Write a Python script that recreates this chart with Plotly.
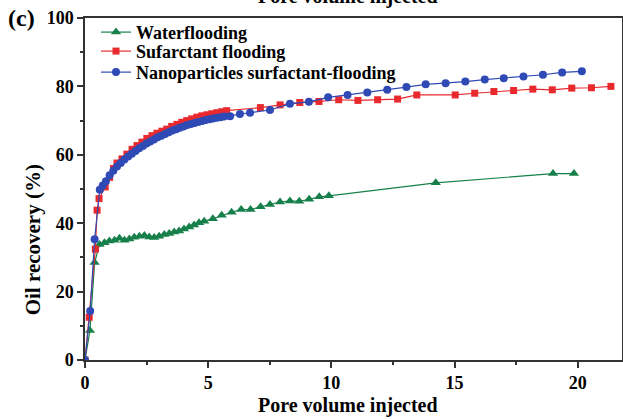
import plotly.graph_objects as go

# Waterflooding
water_x = [0, 0.2, 0.39, 0.59, 0.79, 0.99, 1.2, 1.4, 1.6, 1.8, 2.0, 2.21, 2.41, 2.61, 2.81,
           3.01, 3.22, 3.42, 3.62, 3.82, 4.02, 4.23, 4.43, 4.63, 4.84,
           5.19, 5.55, 5.95, 6.34, 6.72, 7.13, 7.51, 7.92, 8.32, 8.70, 9.10, 9.51, 9.90,
           14.24, 19.0, 19.85]
water_y = [0, 8.6, 28.5, 33.8, 34.3, 34.8, 35.0, 35.6, 35.0, 35.4, 35.9, 36.2, 36.4, 36.0, 35.8,
           36.2, 36.7, 37.0, 37.4, 37.7, 38.3, 38.9, 39.5, 40.1, 40.6,
           41.3, 42.3, 43.2, 44.0, 44.0, 44.8, 45.5, 46.2, 46.5, 46.4, 47.0, 47.7, 48.0,
           51.8, 54.5, 54.5]

# Surfactant flooding
surf_x = [0, 0.17, 0.42, 0.49, 0.57, 0.82, 1.0, 1.16, 1.3, 1.5, 1.7, 1.91, 2.11, 2.31, 2.51,
          2.72, 2.92, 3.12, 3.32, 3.52, 3.73, 3.93, 4.13, 4.33, 4.54, 4.74, 4.95, 5.15,
          5.35, 5.55, 5.75,
          7.12, 7.92, 8.72, 9.5, 10.3, 11.08, 11.88, 12.69, 13.47, 15.03, 15.82, 16.6,
          17.4, 18.18, 18.97, 19.76, 20.56, 21.35]
surf_y = [0, 12.5, 32.4, 43.8, 47.2, 50.6, 53.4, 56.0, 57.6, 58.8, 60.2, 61.6, 62.7, 63.7, 64.8,
          65.6, 66.3, 66.9, 67.5, 68.3, 68.9, 69.5, 70.0, 70.5, 71.0, 71.4, 71.7, 72.0,
          72.3, 72.6, 72.9,
          73.8, 74.6, 75.3, 75.6, 76.1, 75.9, 76.1, 76.3, 77.5, 77.5, 78.0, 78.5,
          78.8, 79.2, 79.0, 79.5, 79.6, 80.0]

# Nanoparticles surfactant-flooding
nano_x = [0, 0.21, 0.39, 0.60, 0.72, 0.85, 1.00, 1.15, 1.30, 1.45, 1.60, 1.75, 1.90, 2.05,
          2.20, 2.35, 2.50, 2.65, 2.80, 2.95, 3.10, 3.25, 3.40, 3.55, 3.70, 3.85, 4.00,
          4.15, 4.30, 4.45, 4.60, 4.75, 4.90, 5.05, 5.20, 5.35, 5.50, 5.65, 5.89,
          6.29, 6.70, 7.51, 8.32, 9.09, 9.87, 10.66, 11.46, 12.27, 13.05, 13.83, 14.64,
          15.44, 16.23, 17.0, 17.8, 18.59, 19.37, 20.17]
nano_y = [0, 14.3, 35.3, 49.8, 51.0, 52.3, 54.0, 55.3, 56.6, 57.6, 58.6, 59.5, 60.3, 61.1,
          61.9, 62.6, 63.3, 63.9, 64.5, 65.1, 65.6, 66.1, 66.6, 67.1, 67.5, 67.9, 68.3,
          68.7, 69.0, 69.3, 69.6, 69.9, 70.2, 70.4, 70.6, 70.8, 71.0, 71.2, 71.3,
          71.9, 72.3, 73.1, 74.9, 75.5, 76.8, 77.5, 78.2, 79.0, 79.8, 80.6, 80.9,
          81.4, 82.0, 82.4, 82.9, 83.4, 84.1, 84.4]

x_ticks = [0, 5, 10, 15, 20]
y_ticks = [0, 20, 40, 60, 80, 100]

FONT = "Liberation Serif"
GREEN = "#17804a"
RED = "#e82a2e"
BLUE = "#2f4ab5"

fig = go.Figure()
fig.add_trace(go.Scatter(x=water_x, y=water_y, mode="lines+markers", name="<b>Waterflooding</b>",
                         line=dict(color=GREEN, width=1.2), legend="legend",
                         marker=dict(symbol="triangle-up", size=9, color=GREEN)))
fig.add_trace(go.Scatter(x=surf_x, y=surf_y, mode="lines+markers", name="<b>Sufarctant flooding</b>",
                         line=dict(color=RED, width=1.2), legend="legend2",
                         marker=dict(symbol="square", size=7, color=RED)))
fig.add_trace(go.Scatter(x=nano_x, y=nano_y, mode="lines+markers",
                         name="<b>Nanoparticles surfactant-flooding</b>", legend="legend3",
                         line=dict(color=BLUE, width=1.2),
                         marker=dict(symbol="circle", size=8, color=BLUE)))

axis_common = dict(showline=True, linecolor="#333333", linewidth=1.5, mirror=True,
                   ticks="outside", ticklen=6, tickwidth=1.5, tickcolor="#333333",
                   showgrid=False, zeroline=False, automargin=False,
                   tickfont=dict(family=FONT, size=18, color="black", weight="bold"))

fig.update_xaxes(range=[0, 21.8], tickvals=x_ticks,
                 minor=dict(dtick=2.5, ticks="outside", ticklen=3, tickcolor="#333333"),
                 **axis_common)
fig.update_yaxes(range=[0, 100], tickvals=y_ticks,
                 minor=dict(dtick=10, ticks="outside", ticklen=3, tickcolor="#333333"),
                 **axis_common)

leg_common = dict(x=0.0205, xanchor="left", yanchor="top", bgcolor="rgba(0,0,0,0)",
                  font=dict(family=FONT, size=18, color="black"))

fig.update_layout(
    width=623, height=419,
    margin=dict(l=85, r=1, t=18, b=59),
    plot_bgcolor="white", paper_bgcolor="white",
    showlegend=True,
    legend=dict(y=1.012, **leg_common),
    legend2=dict(y=0.9565, **leg_common),
    legend3=dict(y=0.895, **leg_common),
    annotations=[
        dict(text="<b>(c)</b>", x=-0.119, y=1.0, xref="paper", yref="paper",
             xanchor="center", yanchor="middle", showarrow=False,
             font=dict(family=FONT, size=24, color="black")),
        dict(text="<b>Pore volume injected</b>", x=0.49, y=1, xref="paper", yref="paper",
             xanchor="center", yanchor="bottom", yshift=8, showarrow=False,
             font=dict(family=FONT, size=20, color="black")),
        dict(text="<b>Pore volume injected</b>", x=0.49, y=0, xref="paper", yref="paper",
             xanchor="center", yanchor="middle", yshift=-45, showarrow=False,
             font=dict(family=FONT, size=20, color="black")),
        dict(text="<b>Oil recovery (%)</b>", x=0, y=0.35, xref="paper", yref="paper",
             xanchor="center", yanchor="middle", xshift=-52, textangle=-90, showarrow=False,
             font=dict(family=FONT, size=21, color="black")),
    ],
)

fig.write_html("out.html", config={"displayModeBar": False},
               post_script="document.body.style.margin='0';")
